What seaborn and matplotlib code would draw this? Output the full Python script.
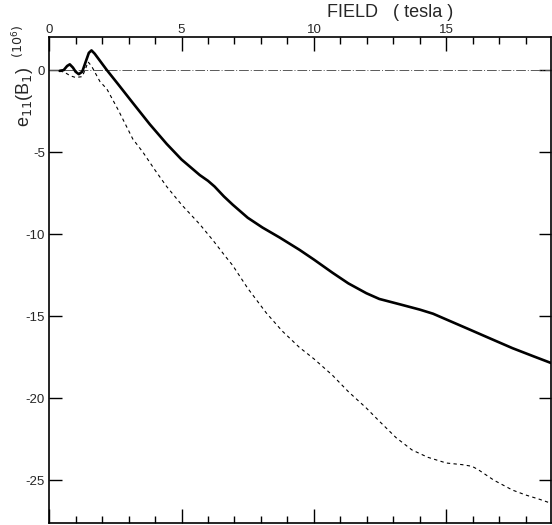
import numpy as np
import pandas as pd

import matplotlib
matplotlib.use("Agg")
import matplotlib.pyplot as plt
from matplotlib.ticker import MultipleLocator
import seaborn as sns

# solid curve (field in tesla, e11 in 1e-6)
field_solid = [0.4, 0.55, 0.68, 0.78, 0.9, 1.0, 1.12, 1.25, 1.38, 1.5, 1.6, 1.72,
               1.95, 2.18, 2.6, 3.16, 3.8, 4.44, 5.0, 5.69, 6.0, 6.25, 6.6, 6.93,
               7.5, 8.06, 8.7, 9.45, 10.0, 10.7, 11.3, 11.98, 12.47, 13.3, 14.0,
               14.5, 15.0, 15.86, 16.5, 17.5, 18.3, 18.95]
e11_solid = [-0.05, 0.0, 0.25, 0.35, 0.15, -0.1, -0.25, -0.1, 0.5, 1.05, 1.2, 1.0,
             0.5, 0.0, -0.85, -2.0, -3.3, -4.5, -5.45, -6.4, -6.75, -7.1, -7.7, -8.2,
             -9.0, -9.6, -10.2, -10.95, -11.55, -12.35, -13.0, -13.6, -13.95, -14.3, -14.6,
             -14.85, -15.2, -15.8, -16.25, -16.95, -17.45, -17.85]

# dashed curve
field_dash = [0.4, 0.6, 0.8, 1.0, 1.25, 1.38, 1.47, 1.6, 1.92, 2.18, 2.6, 3.16,
              3.54, 4.0, 4.44, 5.0, 5.69, 6.2, 6.63, 6.93, 7.5, 8.2, 8.8, 9.45,
              10.0, 10.7, 11.3, 11.98, 12.47, 13.1, 13.7, 14.3, 15.0, 15.6, 15.97,
              16.2, 16.8, 17.5, 18.0, 18.5, 18.95]
e11_dash = [-0.05, -0.15, -0.35, -0.45, -0.4, 0.1, 0.5, 0.25, -0.7, -1.15, -2.4, -4.2,
            -5.0, -6.1, -7.1, -8.2, -9.4, -10.4, -11.3, -11.9, -13.3, -14.8, -15.9, -16.9,
            -17.6, -18.6, -19.6, -20.6, -21.4, -22.4, -23.15, -23.6, -23.95, -24.05, -24.15,
            -24.35, -25.0, -25.6, -25.9, -26.15, -26.4]

x_ticks = [0, 5, 10, 15]
y_ticks = [0, -5, -10, -15, -20, -25]

sns.set_style("white")
plt.rcParams["font.family"] = ["Liberation Sans", "DejaVu Sans"]

df_solid = pd.DataFrame({"field": field_solid, "e11": e11_solid})
df_dash = pd.DataFrame({"field": field_dash, "e11": e11_dash})

fig = plt.figure(figsize=(5.52, 5.25), dpi=100)
ax = fig.add_axes([0.089, 0.004, 0.909, 0.925])

xmax = 18.95
# zero reference line
ax.plot([0, xmax], [0, 0], color="0.35", lw=0.7, linestyle=(0, (10, 2, 1, 2)))

sns.lineplot(data=df_solid, x="field", y="e11", ax=ax, sort=False, estimator=None,
             color="black", lw=1.9, solid_joinstyle="round", solid_capstyle="round")
sns.lineplot(data=df_dash, x="field", y="e11", ax=ax, sort=False, estimator=None,
             color="black", lw=0.8, linestyle=(0, (3, 3)))

ax.set_xlim(0, xmax)
ax.set_ylim(-27.6, 2.0)

ax.xaxis.set_minor_locator(MultipleLocator(1))
ax.set_xticks(x_ticks)
ax.set_yticks(y_ticks)
ax.set_yticklabels([str(v) for v in y_ticks])

ax.tick_params(axis="x", which="both", direction="in", top=True, bottom=True,
               labeltop=True, labelbottom=False, color="black", width=1.0, pad=1,
               labelsize=9.5)
ax.tick_params(axis="x", which="major", length=10)
ax.tick_params(axis="x", which="minor", length=5)
ax.tick_params(axis="y", which="major", direction="in", left=True, right=True,
               length=9, width=1.0, pad=3, labelsize=9.5, color="black")

for side in ["left", "right", "top", "bottom"]:
    ax.spines[side].set_visible(True)
    ax.spines[side].set_color("black")
    ax.spines[side].set_linewidth(1.2)

ax.set_xlabel("")
ax.set_ylabel("")

fig.text(0.707, 0.977, "FIELD   ( tesla )", ha="center", va="center", fontsize=13)
fig.text(0.042, 0.855, r"e$_{11}$(B$_1$)  $^{(10^6)}$", rotation=90,
         ha="center", va="center", fontsize=13)

fig.savefig("out.png", dpi=100)
plt.close(fig)
